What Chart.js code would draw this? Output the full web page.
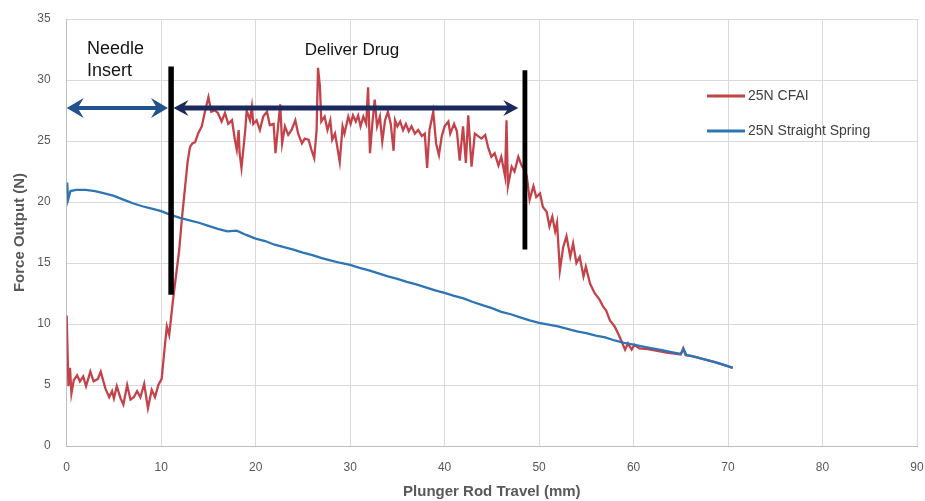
<!DOCTYPE html>
<html><head><meta charset="utf-8">
<script src="https://cdn.jsdelivr.net/npm/chart.js@4.4.1/dist/chart.umd.min.js"></script>
<style>html,body{margin:0;padding:0;background:#fff}</style>
</head><body>
<canvas id="c" width="925" height="501" style="display:block;width:925px;height:501px"></canvas>
<script>
const xTickValues = [0, 10, 20, 30, 40, 50, 60, 70, 80, 90];
const yTickValues = [0, 5, 10, 15, 20, 25, 30, 35];
const seriesNames = ['25N CFAI', '25N Straight Spring'];
const axisTitles = ['Plunger Rod Travel (mm)', 'Force Output (N)'];
const phaseNames = ['Needle Insert', 'Deliver Drug'];
const phaseBoundaryX = [11.05, 48.5];
const phaseBoundaryTop = [31.1, 30.8];
const phaseBoundaryBottom = [12.4, 16.1];
const phaseArrowFrom = [0, 11.3];
const phaseArrowTo = [10.72, 47.8];
const phaseArrowLevel = 27.7;

const cfaiX = [
 0,0.18,0.35,0.5,0.75,1.1,1.4,1.75,2.05,2.5,
 2.85,3.3,3.6,4.1,4.5,4.8,5.0,5.3,5.7,6.0,
 6.4,6.75,7.1,7.45,7.8,8.2,8.6,9.0,9.35,9.7,
 10.05,10.4,10.6,10.85,11.3,11.9,12.2,12.5,12.8,13.05,
 13.3,13.6,13.9,14.3,
 14.6,15.0,15.3,15.7,16.0,16.4,16.75,17.1,17.5,17.8,
 18.0,18.2,18.3,18.5,18.9,19.05,19.4,19.6,19.75,20.1,
 20.45,20.8,21.2,21.5,21.9,22.1,22.4,22.6,22.8,23.1,
 23.45,23.8,24.2,24.5,24.9,25.2,25.6,25.9,26.2,26.45,
 26.6,26.8,26.95,
 27.3,27.6,27.9,28.1,28.4,28.6,28.9,29.2,29.4,29.8,
 30.05,30.3,30.6,30.85,31.1,31.4,31.7,31.9,32.1,32.35,
 32.6,32.85,33.15,33.4,33.7,34.0,34.3,34.6,34.75,35.0,
 35.3,35.6,35.9,36.2,36.5,36.85,37.2,37.6,37.9,38.15,
 38.4,38.8,39.1,39.4,39.7,40.0,40.4,
 40.6,41.0,41.3,41.6,41.95,42.25,42.5,42.85,43.2,43.55,
 43.9,44.3,44.6,44.95,45.3,45.7,46.0,46.4,46.55,46.7,
 47.1,47.4,47.8,48.15,48.5,48.7,49.0,49.4,49.7,50.1,
 50.4,50.8,51.1,51.4,51.7,51.9,52.2,52.55,52.9,53.3,
 53.6,53.95,54.3,54.7,54.95,55.4,55.9,56.4,56.8,57.1,
 57.5,58.0,58.5,59.1,59.4,59.8,60.1,60.6,61.5,62.5,
 63.5,64.5,65.0,65.25,65.5,66.5,67.5,68.5,69.5,70.5
];
const cfaiY = [
 10.7,4.9,6.4,4.3,5.4,5.8,5.3,5.7,4.9,6.1,
 5.3,5.5,6.1,4.7,4.0,4.5,3.9,4.9,3.9,3.4,
 5.0,3.8,4.0,4.5,4.0,5.1,3.1,4.6,4.0,5.0,
 5.5,8.3,9.8,9.1,12.3,16.0,18.7,21.0,23.3,24.5,
 24.8,24.9,25.6,26.2,
 27.3,28.6,27.4,27.5,27.3,26.6,27.3,26.4,26.7,25.1,
 24.3,25.9,24.0,22.8,25.9,27.5,26.7,27.8,26.4,26.7,
 25.9,27.0,27.4,26.3,26.4,24.0,26.4,28.0,24.8,26.2,
 25.5,25.9,26.7,25.6,24.8,25.2,25.1,24.3,23.6,25.9,
 31.0,29.5,26.6,
 27.0,25.9,26.7,25.1,25.6,24.7,23.3,26.2,25.6,27.0,
 26.4,27.1,26.6,27.1,26.2,27.0,26.4,29.4,24.0,26.4,
 28.4,26.2,27.0,24.95,26.7,27.4,26.4,24.2,26.7,26.2,
 26.6,25.9,26.4,25.8,26.2,25.6,25.9,25.4,25.6,22.8,
 25.9,27.4,24.8,23.85,25.4,26.2,26.6,
 25.6,26.4,25.8,23.4,26.2,23.2,27.1,22.9,25.6,25.4,
 25.2,25.5,24.5,23.7,24.0,23.0,23.7,22.1,26.7,21.3,
 22.9,22.5,23.7,23.0,22.6,22.1,20.2,21.3,20.4,20.7,
 19.6,19.2,18.0,18.8,17.6,18.3,14.4,16.3,17.2,15.5,
 16.6,15.0,15.5,13.9,14.7,13.3,12.5,12.0,11.4,11.1,
 10.3,9.8,9.0,7.9,8.4,7.9,8.3,8.0,7.95,7.8,
 7.65,7.55,7.5,8.0,7.45,7.3,7.1,6.9,6.65,6.4
];
const springX = [
 0,0.05,0.15,0.4,1,2,3,4,5,6,
 7,8,9,10,11,12,13,14,15,16,
 17,18,19,20,21,22,23,24,25,26,
 27,28,29,30,31,32,33,34,35,36,
 37,38,39,40,41,42,43,44,45,46,
 47,48,49,50,51,52,53,54,55,56,
 57,58,59,60,61,62,63,64,65,65.3,
 65.6,66,67,68,69,70,70.5
];
const springY = [
 20.7,21.6,20.2,20.9,21.0,21.0,20.9,20.7,20.5,20.2,
 19.9,19.65,19.45,19.25,18.95,18.7,18.5,18.3,18.05,17.8,
 17.6,17.65,17.3,17.0,16.8,16.5,16.3,16.1,15.85,15.65,
 15.4,15.2,15.0,14.85,14.6,14.4,14.15,13.9,13.7,13.45,
 13.25,13.0,12.75,12.55,12.3,12.1,11.8,11.55,11.3,11.0,
 10.8,10.55,10.3,10.1,9.95,9.8,9.6,9.4,9.25,9.05,
 8.9,8.65,8.45,8.3,8.15,8.0,7.85,7.7,7.55,7.95,
 7.45,7.4,7.2,7.0,6.8,6.55,6.4
];

const FONT = '"Liberation Sans", Arial, sans-serif';

function drawArrowHead(ctx, tx, y, dir, len, half) {
  ctx.beginPath();
  ctx.moveTo(tx, y);
  ctx.lineTo(tx - dir * len, y - half);
  ctx.lineTo(tx - dir * len * 0.65, y);
  ctx.lineTo(tx - dir * len, y + half);
  ctx.closePath();
  ctx.fill();
}

const annotPlugin = {
  id: 'annot',
  afterDatasetsDraw(chart) {
    const { ctx, scales: { x, y } } = chart;
    ctx.save();
    ctx.strokeStyle = '#000';
    ctx.lineCap = 'butt';
    const barW = [5.5, 4.8];
    phaseBoundaryX.forEach((bx, i) => {
      ctx.lineWidth = barW[i];
      ctx.beginPath();
      ctx.moveTo(x.getPixelForValue(bx), y.getPixelForValue(phaseBoundaryTop[i]));
      ctx.lineTo(x.getPixelForValue(bx), y.getPixelForValue(phaseBoundaryBottom[i]));
      ctx.stroke();
    });
    const cols = ['#22538F', '#1B295C'];
    const lw = [4, 5];
    const hl = [17, 15];
    const hh = [10, 8];
    const ay = y.getPixelForValue(phaseArrowLevel);
    phaseArrowFrom.forEach((f, i) => {
      const x1 = x.getPixelForValue(f), x2 = x.getPixelForValue(phaseArrowTo[i]);
      ctx.strokeStyle = cols[i]; ctx.fillStyle = cols[i]; ctx.lineWidth = lw[i];
      ctx.beginPath();
      ctx.moveTo(x1 + hl[i] * 0.6, ay);
      ctx.lineTo(x2 - hl[i] * 0.6, ay);
      ctx.stroke();
      drawArrowHead(ctx, x1, ay, -1, hl[i], hh[i]);
      drawArrowHead(ctx, x2, ay, 1, hl[i], hh[i]);
    });
    ctx.fillStyle = '#151515';
    ctx.textBaseline = 'middle';
    ctx.textAlign = 'left';
    ctx.font = '18px ' + FONT;
    const w = phaseNames[0].split(' ');
    ctx.fillText(w[0], x.getPixelForValue(2.15), y.getPixelForValue(32.55));
    ctx.fillText(w[1], x.getPixelForValue(2.15), y.getPixelForValue(30.75));
    ctx.textAlign = 'center';
    ctx.font = '17px ' + FONT;
    ctx.fillText(phaseNames[1], x.getPixelForValue(30.2), y.getPixelForValue(32.4));
    ctx.restore();
  }
};

const legendPlugin = {
  id: 'customLegend',
  afterDraw(chart) {
    const { ctx } = chart;
    ctx.save();
    const ys = [96, 131];
    chart.data.datasets.forEach((ds, i) => {
      ctx.strokeStyle = ds.borderColor;
      ctx.lineWidth = 3;
      ctx.beginPath();
      ctx.moveTo(707, ys[i]);
      ctx.lineTo(745, ys[i]);
      ctx.stroke();
      ctx.fillStyle = '#404040';
      ctx.font = '14px ' + FONT;
      ctx.textBaseline = 'middle';
      ctx.textAlign = 'left';
      ctx.fillText(ds.label, 748, ys[i] + 0.5);
    });
    ctx.restore();
  }
};

new Chart(document.getElementById('c'), {
  type: 'line',
  data: {
    datasets: [
      { label: seriesNames[0], data: cfaiX.map((v, i) => ({ x: v, y: cfaiY[i] })),
        borderColor: '#C4434A', borderWidth: 2.3, pointRadius: 0, tension: 0, fill: false, order: 1 },
      { label: seriesNames[1], data: springX.map((v, i) => ({ x: v, y: springY[i] })),
        borderColor: '#2E75B6', borderWidth: 2.3, pointRadius: 0, tension: 0, fill: false, order: 0 }
    ]
  },
  options: {
    responsive: false,
    animation: false,
    devicePixelRatio: 1,
    layout: { padding: { top: 19, right: 8, left: 0, bottom: 0 } },
    plugins: { legend: { display: false }, tooltip: { enabled: false } },
    scales: {
      x: {
        type: 'linear', min: 0, max: 90,
        afterBuildTicks: s => { s.ticks = xTickValues.map(v => ({ value: v })); },
        afterFit: s => { s.height = 55; s.paddingLeft = 0; s.paddingRight = 0; },
        ticks: { color: '#595959', font: { family: FONT, size: 12 }, padding: 14 },
        grid: { color: '#d9d9d9', drawTicks: false, lineWidth: 1 },
        border: { color: '#bfbfbf' },
        title: { display: true, text: axisTitles[0], color: '#595959',
                 font: { family: FONT, size: 15, weight: 'bold' }, padding: { top: 0, bottom: 0 } }
      },
      y: {
        type: 'linear', min: 0, max: 35,
        afterBuildTicks: s => { s.ticks = yTickValues.map(v => ({ value: v })); },
        afterFit: s => { s.width = 66.7; s.paddingTop = 0; s.paddingBottom = 0; },
        ticks: { color: '#595959', font: { family: FONT, size: 12 }, padding: 16 },
        grid: { color: '#d9d9d9', drawTicks: false, lineWidth: 1 },
        border: { color: '#bfbfbf' },
        title: { display: true, text: axisTitles[1], color: '#595959',
                 font: { family: FONT, size: 15, weight: 'bold' }, padding: { top: 11, bottom: 0 } }
      }
    }
  },
  plugins: [annotPlugin, legendPlugin]
});
</script>
</body></html>
